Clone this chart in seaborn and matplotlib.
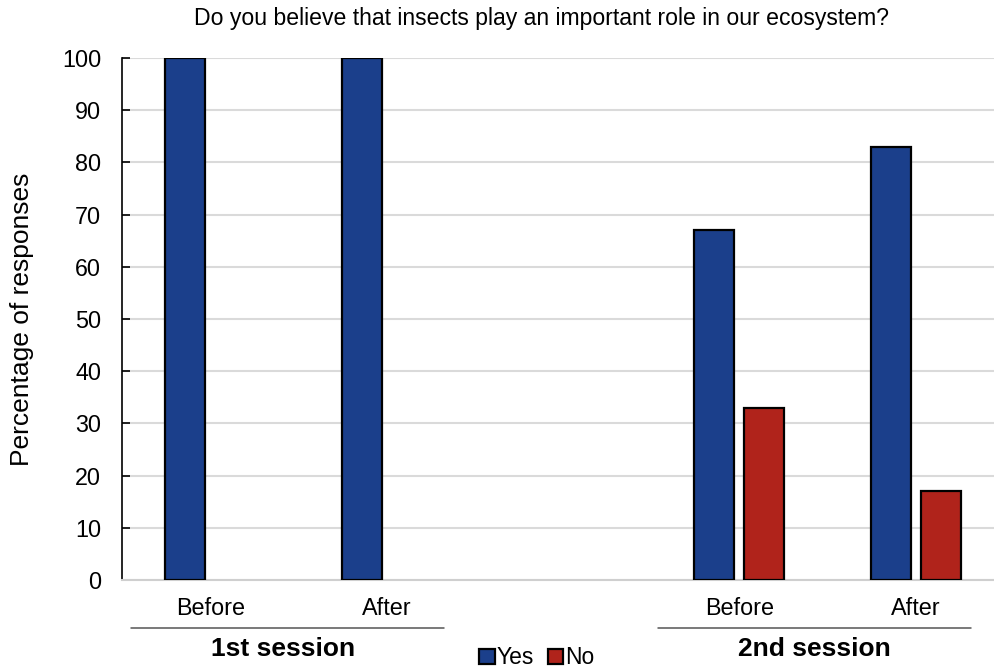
import matplotlib
matplotlib.use("Agg")
import matplotlib.pyplot as plt
import matplotlib.transforms as mtransforms
import pandas as pd
import seaborn as sns

# Survey results (percentage of responses)
slots = ["s1_before", "s1_after", "spacer", "s2_before", "s2_after"]
slot_labels = ["Before", "After", "", "Before", "After"]
answers = ["Yes", "No"]
yes_pct = [100, 100, 67, 83]
no_pct = [0, 0, 33, 17]
answered_slots = ["s1_before", "s1_after", "s2_before", "s2_after"]
sessions = ["1st session", "2nd session"]
title = "Do you believe that insects play an important role in our ecosystem?"

rows = []
for slot, y, n in zip(answered_slots, yes_pct, no_pct):
    rows.append({"slot": slot, "answer": "Yes", "pct": y})
    rows.append({"slot": slot, "answer": "No", "pct": n})
df = pd.DataFrame(rows)
plot_df = df[df["pct"] > 0]

sns.set_theme(style="white")
plt.rcParams["font.family"] = ["Liberation Sans", "DejaVu Sans"]
plt.rcParams["text.color"] = "black"
plt.rcParams["axes.labelcolor"] = "black"
plt.rcParams["xtick.color"] = "black"
plt.rcParams["ytick.color"] = "black"

fig = plt.figure(figsize=(9.95, 6.68), dpi=100)
ax = fig.add_axes([122 / 995, 88 / 668, 873 / 995, 522 / 668])

palette = {"Yes": "#1b3f8b", "No": "#b0231b"}
sns.barplot(
    data=plot_df, x="slot", y="pct", hue="answer",
    order=slots, hue_order=answers, palette=palette,
    width=0.567, gap=0.2, edgecolor="black", linewidth=1.6,
    saturation=1, ax=ax, zorder=3,
)

ax.set_xlim(-0.5, 4.45)
ax.set_ylim(0, 100)
ax.set_yticks(range(0, 101, 10))
ax.set_xticks(range(len(slots)))
ax.set_xticklabels(slot_labels)
ax.tick_params(axis="y", labelsize=16.8, length=6, width=1.2, color="black",
               direction="in", left=True, pad=15)
ax.tick_params(axis="x", labelsize=16.8, length=0, pad=12)
ax.yaxis.grid(True, color="#dadada", linewidth=1.5, zorder=0)
ax.set_axisbelow(True)
for side in ("top", "right"):
    ax.spines[side].set_visible(False)
ax.spines["left"].set_color("black")
ax.spines["left"].set_linewidth(1.2)
ax.spines["bottom"].set_color("#cfcfcf")
ax.spines["bottom"].set_linewidth(1.5)

ax.set_xlabel("")
ax.set_ylabel("Percentage of responses", fontsize=19)
ax.yaxis.set_label_coords(-0.101, 0.5)

fig.text(0.544, 1 - 19 / 668, title, ha="center", va="center", fontsize=16.6)

# Session grouping brackets below the tick labels
trans = mtransforms.blended_transform_factory(ax.transData, fig.transFigure)
line_y = 1 - 628 / 668
label_y = 1 - 649 / 668
for (x0, x1), xc, name in zip([(-0.448, 1.326), (2.538, 4.312)], [0.411, 3.425], sessions):
    ax.plot([x0, x1], [line_y, line_y], transform=trans, color="#555555",
            linewidth=1.1, clip_on=False)
    ax.text(xc, label_y, name, transform=trans, ha="center", va="center",
            fontsize=19, fontweight="bold")

handles, labels = ax.get_legend_handles_labels()
ax.legend(handles, labels, loc="center", bbox_to_anchor=(537 / 995, 1 - 658 / 668),
          bbox_transform=fig.transFigure, ncol=2, frameon=False, fontsize=16.5,
          handlelength=0.66, handleheight=0.66, handletextpad=0.1,
          columnspacing=0.6, borderpad=0)

fig.savefig("out.png", dpi=100)
